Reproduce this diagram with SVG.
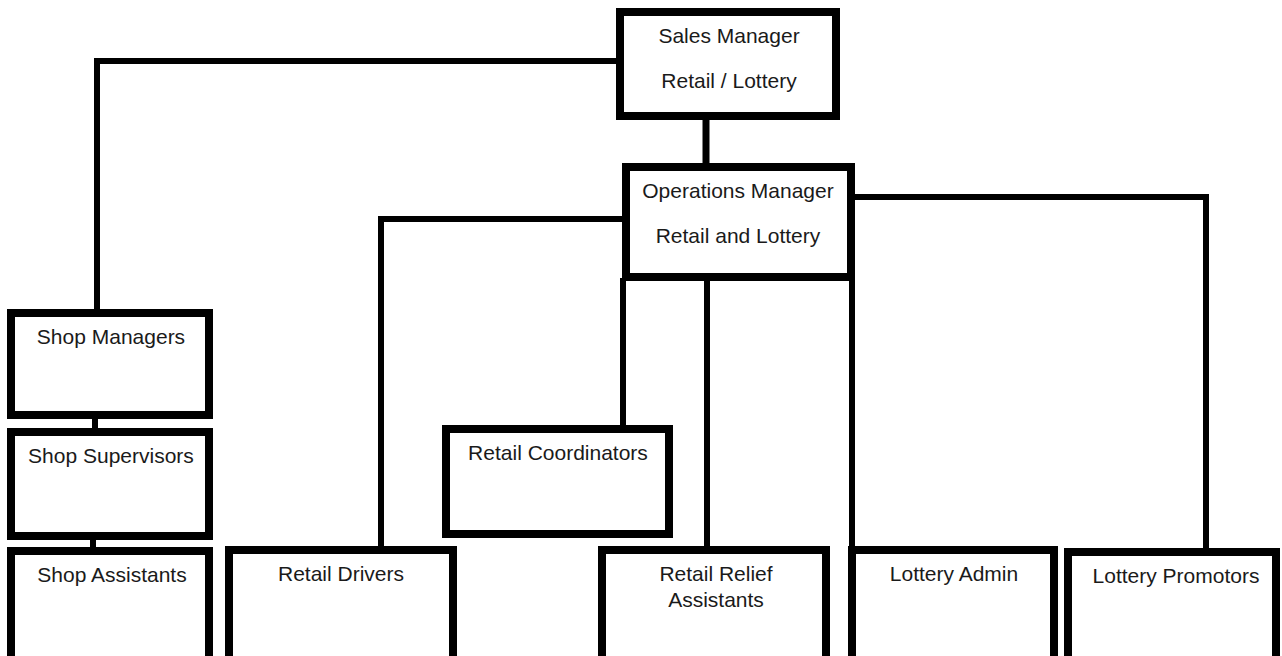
<svg xmlns="http://www.w3.org/2000/svg" width="1282" height="656" viewBox="0 0 1282 656">
<style>
.box{fill:#ffffff;stroke:#000000;stroke-width:8}
.conn{fill:none;stroke:#000000;stroke-width:6}
.lbl{font-family:"Liberation Sans",Arial,sans-serif;font-size:21px;fill:#1a1a1a;text-anchor:middle}
</style>
<rect width="1282" height="656" fill="#ffffff"/>
<g id="connectors">
<path class="conn" d="M706,118 V165" style="stroke-width:7"/>
<path class="conn" d="M618,61 H97 V311"/>
<path class="conn" d="M95,417 V430"/>
<path class="conn" d="M93,538 V549"/>
<path class="conn" d="M624,219 H381 V548"/>
<path class="conn" d="M623,278 V427"/>
<path class="conn" d="M707,278 V548"/>
<path class="conn" d="M852,278 V548"/>
<path class="conn" d="M853,197 H1206 V550"/>
</g>
<g id="sales-manager">
<rect class="box" x="620" y="12" width="216" height="104"/>
<text class="lbl" x="729" y="43">Sales Manager</text>
<text class="lbl" x="729" y="88">Retail / Lottery</text>
</g>
<g id="operations-manager">
<rect class="box" x="626" y="167" width="225" height="110"/>
<text class="lbl" x="738" y="198">Operations Manager</text>
<text class="lbl" x="738" y="243">Retail and Lottery</text>
</g>
<g id="shop-managers">
<rect class="box" x="11" y="313" width="198" height="102"/>
<text class="lbl" x="111" y="344">Shop Managers</text>
</g>
<g id="shop-supervisors">
<rect class="box" x="11" y="432" width="198" height="104"/>
<text class="lbl" x="111" y="463">Shop Supervisors</text>
</g>
<g id="shop-assistants">
<rect class="box" x="11" y="551" width="198" height="120"/>
<text class="lbl" x="112" y="582">Shop Assistants</text>
</g>
<g id="retail-drivers">
<rect class="box" x="229" y="550" width="224" height="120"/>
<text class="lbl" x="341" y="581">Retail Drivers</text>
</g>
<g id="retail-coordinators">
<rect class="box" x="446" y="429" width="223" height="105"/>
<text class="lbl" x="558" y="460">Retail Coordinators</text>
</g>
<g id="retail-relief-assistants">
<rect class="box" x="602" y="550" width="224" height="120"/>
<text class="lbl" x="716" y="581">Retail Relief</text>
<text class="lbl" x="716" y="607">Assistants</text>
</g>
<g id="lottery-admin">
<rect class="box" x="852" y="550" width="202" height="120"/>
<text class="lbl" x="954" y="581">Lottery Admin</text>
</g>
<g id="lottery-promotors">
<rect class="box" x="1068" y="552" width="208" height="120"/>
<text class="lbl" x="1176" y="583">Lottery Promotors</text>
</g>
</svg>
